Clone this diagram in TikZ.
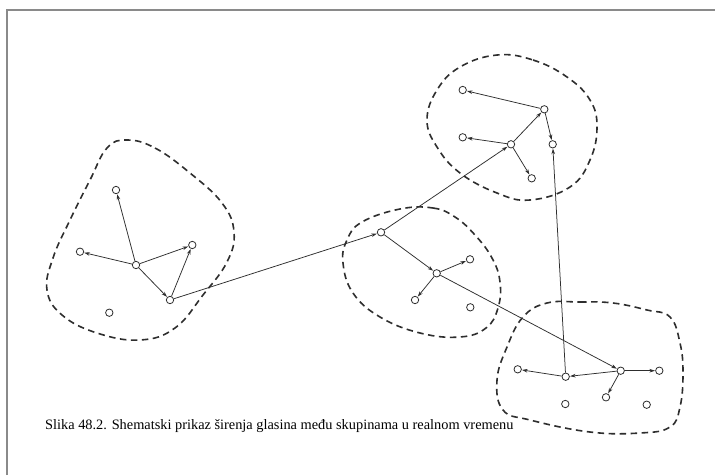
\documentclass[tikz,border=0pt]{standalone}
\usepackage{fontspec}
\setmainfont{Liberation Serif}
\usetikzlibrary{arrows.meta}
\definecolor{ink}{HTML}{2E2E2E}
\definecolor{framegray}{HTML}{8A8A8A}
\tikzset{
  pt/.style={circle,draw=ink,fill=white,line width=0.8pt,inner sep=0pt,minimum size=7.4pt},
  link/.style={draw=ink,line width=0.75pt,-{Stealth[length=5.5pt,width=3.6pt]},shorten >=0.3pt},
  plainlink/.style={draw=ink,line width=0.75pt},
  blob/.style={draw=ink,line width=1.6pt,dash pattern=on 6.5pt off 4.5pt}
}
\begin{document}
\begin{tikzpicture}[x=1pt,y=-1pt]
\useasboundingbox (0,0) rectangle (715,475);
\fill[white] (0,0) rectangle (715,475);
% page frame
\draw[framegray,line width=1.5pt] (7,475) -- (7,10) -- (715,10);

% cluster outlines
\draw[blob] plot[smooth cycle,tension=0.7] coordinates {(127,140) (155,148) (190,173) (222,203) (234,232) (227,262) (203,295) (175,328) (140,340) (97,333) (62,315) (47,290) (53,258) (70,220) (90,180) (107,148)};
\draw[blob] plot[smooth cycle,tension=0.7] coordinates {(400,209) (433,208) (455,217) (475,235) (492,258) (500,282) (498,308) (486,328) (460,337) (420,333) (380,317) (353,293) (343,263) (347,240) (362,222)};
\draw[blob] plot[smooth cycle,tension=0.7] coordinates {(497,55) (533,60) (567,77) (590,100) (597,127) (590,160) (570,187) (530,200) (497,193) (460,173) (437,147) (427,120) (437,90) (460,67)};
\draw[blob] plot[smooth cycle,tension=0.7] coordinates {(547,303) (580,302) (613,303) (647,310) (670,317) (680,343) (683,373) (680,407) (670,427) (640,433) (590,432) (530,420) (503,410) (497,380) (507,347) (523,317)};

% cluster 1
\node[pt] (A) at (116,190) {};
\node[pt] (B) at (80,251.7) {};
\node[pt] (C) at (136,265) {};
\node[pt] (D) at (192.3,245) {};
\node[pt] (E) at (170,300) {};
\node[pt] (F) at (109.3,312.7) {};
% cluster 2
\node[pt] (G) at (381,232.3) {};
\node[pt] (H) at (436.7,273.3) {};
\node[pt] (I) at (470,259.3) {};
\node[pt] (J) at (415,300) {};
\node[pt] (K) at (470.3,307.3) {};
% cluster 3
\node[pt] (L) at (462.7,90) {};
\node[pt] (M) at (544.3,109.3) {};
\node[pt] (N) at (462.7,137.3) {};
\node[pt] (O) at (511,144.3) {};
\node[pt] (P) at (552.7,144.3) {};
\node[pt] (Q) at (531.7,178.3) {};
% cluster 4
\node[pt] (R) at (517.7,369.3) {};
\node[pt] (S) at (565.7,376.7) {};
\node[pt] (T) at (620.7,370.7) {};
\node[pt] (U) at (659.3,370.7) {};
\node[pt] (V) at (606,397.3) {};
\node[pt] (W) at (565.3,404) {};
\node[pt] (X) at (646.7,404.7) {};

% connectors
\draw[link] (C) -- (A);
\draw[link] (C) -- (B);
\draw[link] (C) -- (D);
\draw[link] (C) -- (E);
\draw[link] (E) -- (D);
\draw[link] (E) -- (G);
\draw[link] (G) -- (O);
\draw[link] (G) -- (H);
\draw[link] (H) -- (I);
\draw[link] (H) -- (J);
\draw[link] (H) -- (T);
\draw[link] (O) -- (M);
\draw[link] (O) -- (N);
\draw[link] (O) -- (Q);
\draw[link] (M) -- (L);
\draw[link] (M) -- (P);
\draw[link] (S) -- (P);
\draw[link] (T) -- (S);
\draw[link] (S) -- (R);
\draw[link] (T) -- (U);
\draw[link] (T) -- (V);

% caption
\node[anchor=base west,inner sep=0pt,font=\fontsize{14.35}{17}\selectfont,text=black] (cap) at (45,429) {Slika 48.2. Shematski prikaz širenja glasina među skupinama u realnom vremenu};
\end{tikzpicture}
\end{document}
